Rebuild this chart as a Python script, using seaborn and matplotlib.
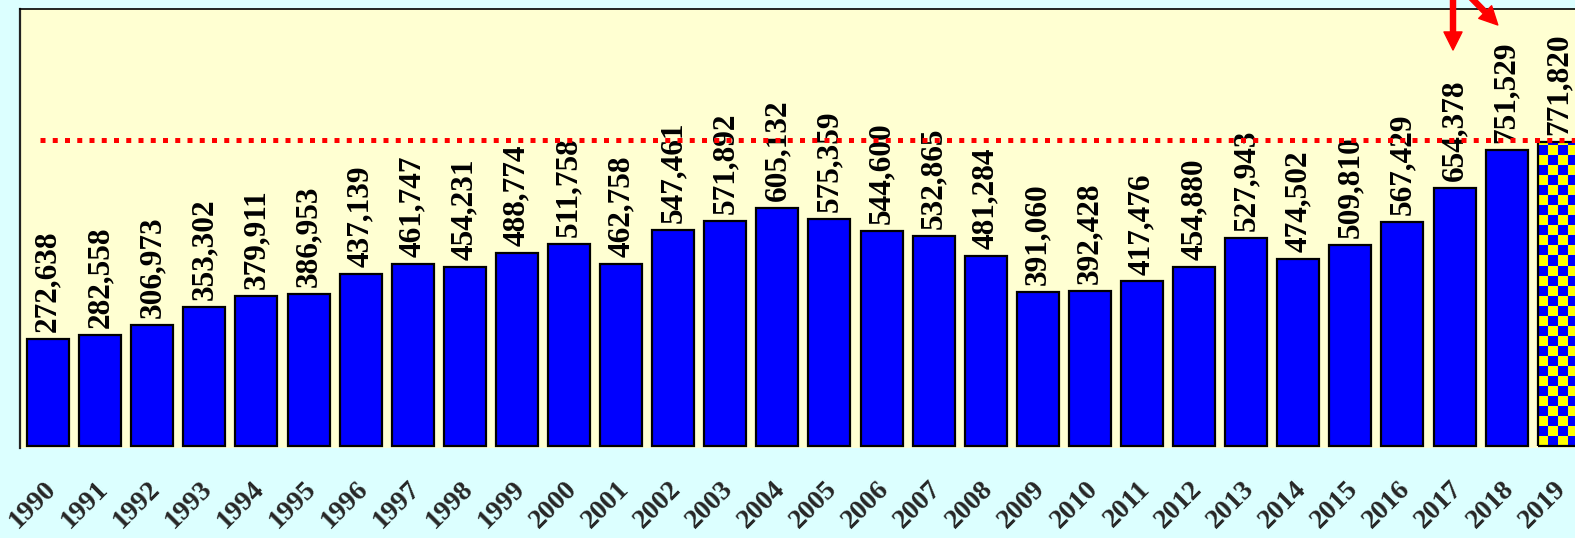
import matplotlib
matplotlib.use("Agg")
import matplotlib.pyplot as plt
import seaborn as sns
import numpy as np
from matplotlib.colors import ListedColormap
from matplotlib.transforms import offset_copy, ScaledTranslation

# ---- data ----
years = ["1990", "1991", "1992", "1993", "1994", "1995", "1996", "1997", "1998", "1999",
         "2000", "2001", "2002", "2003", "2004", "2005", "2006", "2007", "2008", "2009",
         "2010", "2011", "2012", "2013", "2014", "2015", "2016", "2017", "2018", "2019"]
values = [272638, 282558, 306973, 353302, 379911, 386953, 437139, 461747, 454231, 488774,
          511758, 462758, 547461, 571892, 605132, 575359, 544600, 532865, 481284, 391060,
          392428, 417476, 454880, 527943, 474502, 509810, 567429, 654378, 751529, 771820]

# ---- style ----
BG = "#DCFFFF"
AX_BG = "#FFFFD2"
BLUE = "#0000FF"
YELLOW = "#FFFF00"

sns.set_style("white")
plt.rcParams["font.family"] = ["Liberation Serif", "DejaVu Serif"]

W, H = 1575, 538
fig = plt.figure(figsize=(W / 100, H / 100), dpi=100, facecolor=BG)
ax = fig.add_axes([20 / W, 90 / H, 1570 / W, 439 / H])
ax.set_facecolor(AX_BG)

sns.barplot(x=years, y=values, color=BLUE, saturation=1, edgecolor="black",
            linewidth=1.6, width=0.806, ax=ax)

XLIM = (-0.54, 29.6)
YLIM = (-5100, 1109000)
ax.set_xlim(*XLIM)
ax.set_ylim(*YLIM)

# checkered last bar
bar = ax.patches[-1]
p0 = ax.transData.transform((0, 0))
p1 = ax.transData.transform((1, 1))
sx, sy = p1[0] - p0[0], p1[1] - p0[1]
cell = 10.0
bx, bw, by, bh = bar.get_x(), bar.get_width(), bar.get_y(), bar.get_height()
nx = int(np.ceil(bw * sx / cell))
ny = int(np.ceil(bh * sy / cell))
checker = np.add.outer(np.arange(ny), np.arange(nx)) % 2
im = ax.imshow(checker, cmap=ListedColormap([YELLOW, BLUE]),
               extent=[bx, bx + nx * cell / sx, by, by + ny * cell / sy],
               origin="lower", interpolation="nearest", aspect="auto", zorder=0.9)
im.set_clip_path(bar)
bar.set_facecolor("none")
ax.set_xlim(*XLIM)
ax.set_ylim(*YLIM)

# value labels
for i, v in enumerate(values):
    ax.annotate(f"{v:,}", (i, v), xytext=(0, 5), textcoords="offset points",
                rotation=90, ha="center", va="bottom", fontsize=22.5,
                fontweight="bold", color="black", annotation_clip=False)

# red dotted reference line at the last year's level
tr = offset_copy(ax.get_yaxis_transform(), fig=fig, x=0, y=2, units="dots")
ax.plot([20 / 1570, 1.0], [values[-1], values[-1]], transform=tr, color="red",
        lw=3.6, linestyle=(0, (1, 1.45)), dash_capstyle="butt", zorder=6, clip_on=False)

# red arrows pointing at 2017 and 2018
arrow_style = "simple,head_length=1.0,head_width=1.0,tail_width=0.28"
ax.annotate("", xy=(26.97, 0.9066), xycoords=("data", "axes fraction"),
            xytext=(26.97, 1.04), textcoords=("data", "axes fraction"),
            arrowprops=dict(arrowstyle=arrow_style, mutation_scale=13, color="red",
                            shrinkA=0, shrinkB=0), annotation_clip=False, zorder=7)
ax.annotate("", xy=(27.83, 0.9636), xycoords=("data", "axes fraction"),
            xytext=(27.20, 1.04), textcoords=("data", "axes fraction"),
            arrowprops=dict(arrowstyle=arrow_style, mutation_scale=13, color="red",
                            shrinkA=0, shrinkB=0), annotation_clip=False, zorder=7)

# axes cosmetics
ax.set_xlabel("")
ax.set_ylabel("")
ax.set_yticks([])
ax.set_xticks(range(len(years)))
ax.set_xticklabels(years, rotation=45, ha="right", va="center", rotation_mode="anchor",
                   fontsize=20, fontweight="bold")
ax.tick_params(axis="x", length=0, pad=27)
shift = ScaledTranslation(4 / 100, 0, fig.dpi_scale_trans)
for lbl in ax.get_xticklabels():
    lbl.set_transform(lbl.get_transform() + shift)
ax.spines["right"].set_visible(False)
ax.spines["bottom"].set_visible(False)
ax.spines["left"].set_color("#222222")
ax.spines["left"].set_linewidth(1.6)
ax.spines["top"].set_color("black")
ax.spines["top"].set_linewidth(1.2)

fig.savefig("out.png", dpi=100, facecolor=BG)
